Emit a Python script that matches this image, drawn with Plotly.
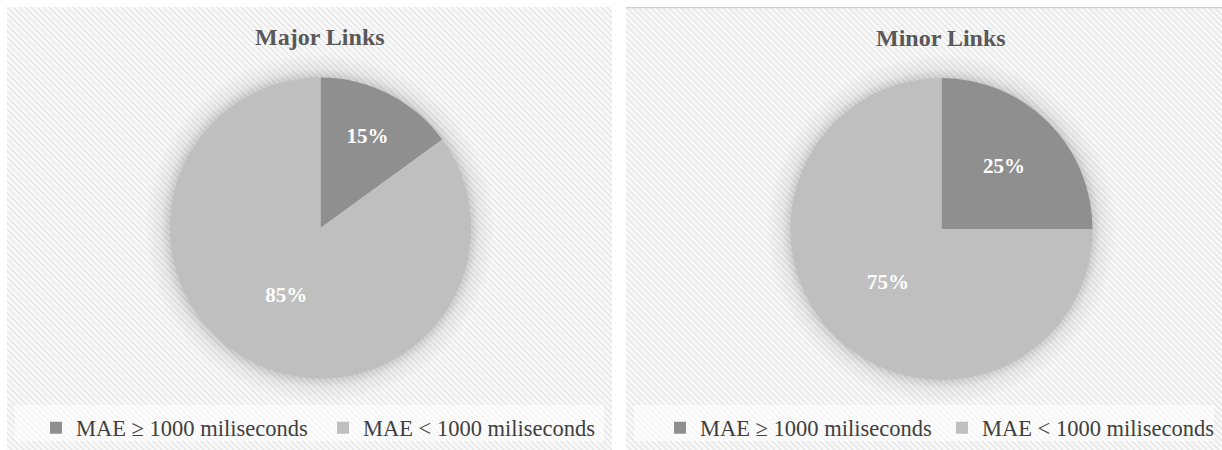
import base64
import plotly.graph_objects as go

# Data
categories = ["MAE ≥ 1000 miliseconds", "MAE < 1000 miliseconds"]
major_values = [15, 85]
minor_values = [25, 75]
panel_titles = ["Major Links", "Minor Links"]

W, H = 1222, 450
DARK = "#8f8f8f"
LIGHT = "#bfbfbf"
SERIF = "Liberation Serif, Times New Roman, serif"


def panel_background(w, h, cx, cy, r, top_border=False):
    """Hatched card background with a soft halo around the pie, as an SVG data URI."""
    border = (f'<line x1="0" y1="0.5" x2="{w}" y2="0.5" stroke="#d0d0d0" stroke-width="1.5"/>'
              if top_border else "")
    svg = f'''<svg xmlns="http://www.w3.org/2000/svg" width="{w}" height="{h}" viewBox="0 0 {w} {h}">
<defs>
<pattern id="hatch" patternUnits="userSpaceOnUse" width="6" height="6">
<rect width="6" height="6" fill="#f9f9f9"/>
<path d="M-3,3 L3,9 M0,0 L6,6 M3,-3 L9,3" stroke="#e6e6e6" stroke-width="1.5"/>
</pattern>
<radialGradient id="halo" gradientUnits="userSpaceOnUse" cx="{cx}" cy="{cy}" r="{r + 24}">
<stop offset="0" stop-color="#000" stop-opacity="0.16"/>
<stop offset="{r / (r + 24):.3f}" stop-color="#000" stop-opacity="0.16"/>
<stop offset="{(r + 8) / (r + 24):.3f}" stop-color="#000" stop-opacity="0.06"/>
<stop offset="1" stop-color="#000" stop-opacity="0"/>
</radialGradient>
</defs>
<rect width="{w}" height="{h}" fill="url(#hatch)"/>
<circle cx="{cx}" cy="{cy}" r="{r + 24}" fill="url(#halo)"/>
<rect x="8" y="398" width="{w - 16}" height="36" fill="#ffffff" fill-opacity="0.6"/>
{border}
</svg>'''
    return "data:image/svg+xml;base64," + base64.b64encode(svg.encode()).decode()


fig = go.Figure()

pie_style = dict(
    labels=categories,
    sort=False,
    direction="clockwise",
    rotation=0,
    marker=dict(colors=[DARK, LIGHT], line=dict(width=0)),
    textinfo="percent",
    textposition="inside",
    insidetextorientation="horizontal",
    textfont=dict(family=SERIF, size=21, color="white", weight="bold"),
    hoverinfo="skip",
)

fig.add_trace(go.Pie(
    values=major_values,
    domain=dict(x=[170 / W, 471 / W], y=[71 / H, 373 / H]),
    legend="legend",
    legendgroup="major",
    **pie_style,
))
fig.add_trace(go.Pie(
    values=minor_values,
    domain=dict(x=[790.5 / W, 1092.5 / W], y=[70 / H, 372 / H]),
    legend="legend2",
    legendgroup="minor",
    **pie_style,
))

legend_style = dict(
    orientation="h",
    traceorder="normal",
    yanchor="middle",
    y=1 - 428 / H,
    xanchor="left",
    font=dict(family=SERIF, size=22.5, color="#404040"),
    bgcolor="rgba(0,0,0,0)",
    itemwidth=30,
)

fig.update_layout(
    width=W,
    height=H,
    margin=dict(l=0, r=0, t=0, b=0, autoexpand=False),
    paper_bgcolor="white",
    showlegend=True,
    legend=dict(x=36 / W, entrywidth=242, **legend_style),
    legend2=dict(x=660 / W, entrywidth=237, **legend_style),
    images=[
        dict(source=panel_background(605, 443, 313, 221, 151), xref="paper", yref="paper",
             x=7 / W, y=1 - 7 / H, sizex=605 / W, sizey=443 / H,
             sizing="stretch", xanchor="left", yanchor="top", layer="below"),
        dict(source=panel_background(596, 443, 315.5, 222, 151, top_border=True),
             xref="paper", yref="paper",
             x=626 / W, y=1 - 7 / H, sizex=596 / W, sizey=443 / H,
             sizing="stretch", xanchor="left", yanchor="top", layer="below"),
    ],
    annotations=[
        dict(text=f"<b>{panel_titles[0]}</b>", x=320 / W, y=1 - 37 / H, xref="paper", yref="paper",
             showarrow=False, xanchor="center", yanchor="middle",
             font=dict(family=SERIF, size=24, color="#595959")),
        dict(text=f"<b>{panel_titles[1]}</b>", x=941 / W, y=1 - 38 / H, xref="paper", yref="paper",
             showarrow=False, xanchor="center", yanchor="middle",
             font=dict(family=SERIF, size=24, color="#595959")),
    ],
)

fig.write_html("out.html")
